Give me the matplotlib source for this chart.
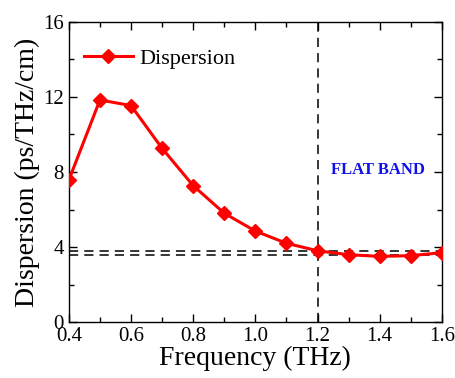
import matplotlib
matplotlib.use("Agg")
import matplotlib.pyplot as plt
from matplotlib.ticker import MultipleLocator

# Data
FREQ = [0.4, 0.5, 0.6, 0.7, 0.8, 0.9, 1.0, 1.1, 1.2, 1.3, 1.4, 1.5, 1.6]
DISPERSION = [7.57, 11.84, 11.54, 9.26, 7.27, 5.80, 4.85, 4.20, 3.80, 3.59, 3.50, 3.54, 3.70]

FLAT_FREQ = 1.2
FLAT_LEVELS = [3.80, 3.55]

plt.rcParams['font.family'] = ['Liberation Serif', 'DejaVu Serif']

fig = plt.figure(figsize=(4.56, 3.78), dpi=100)
ax = fig.add_axes([0.151, 0.148, 0.818, 0.794])

ax.plot(FREQ, DISPERSION, color='#ff0000', linewidth=2.2, marker='D',
        markersize=7, label='Dispersion', zorder=3)

ax.axvline(FLAT_FREQ, color='black', linestyle=(0, (6, 4)), linewidth=1.1)
for lvl in FLAT_LEVELS:
    ax.axhline(lvl, color='black', linestyle=(0, (6, 4)), linewidth=1.1)

ax.text(1.395, 8.1, 'FLAT BAND', color='#1010e8', fontsize=12,
        fontweight='bold', ha='center', va='center')

ax.set_xlim(0.4, 1.6)
ax.set_ylim(0, 16)
ax.xaxis.set_major_locator(MultipleLocator(0.2))
ax.xaxis.set_minor_locator(MultipleLocator(0.1))
ax.yaxis.set_major_locator(MultipleLocator(4))
ax.yaxis.set_minor_locator(MultipleLocator(2))
ax.tick_params(which='both', direction='in', top=True, right=True, width=1.0)
ax.tick_params(which='major', length=6, labelsize=15)
ax.tick_params(which='minor', length=3.5)
ax.set_xticks(ax.get_xticks())
ax.set_xticklabels(['%.1f' % v for v in ax.get_xticks()])
for s in ax.spines.values():
    s.set_linewidth(1.0)

ax.set_xlabel('Frequency (THz)', fontsize=20, labelpad=0)
ax.set_ylabel('Dispersion (ps/THz/cm)', fontsize=20, labelpad=2)

ax.legend(loc='upper left', frameon=False, fontsize=16, handlelength=2.2,
          handletextpad=0.3, borderaxespad=0.6, bbox_to_anchor=(-0.02, 0.985))

ax.set_xlim(0.4, 1.6)
fig.savefig('out.png', dpi=100)
